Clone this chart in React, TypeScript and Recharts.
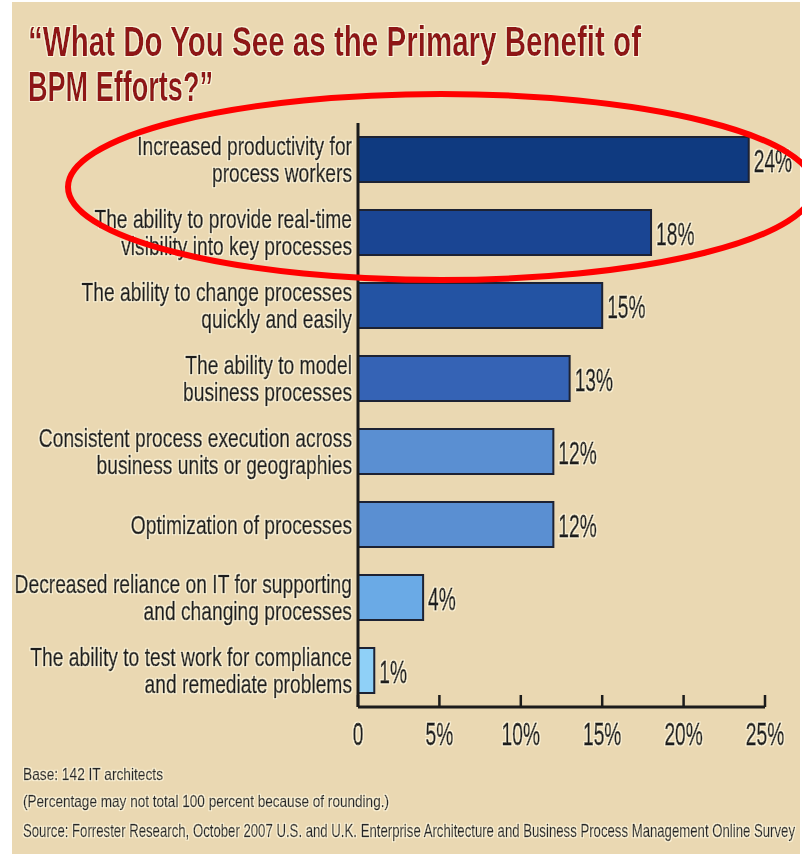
import React from 'react';
import { BarChart, Bar, XAxis, YAxis, Cell, LabelList } from 'recharts';

const categories = [
  'Increased productivity for\nprocess workers',
  'The ability to provide real-time\nvisibility into key processes',
  'The ability to change processes\nquickly and easily',
  'The ability to model\nbusiness processes',
  'Consistent process execution across\nbusiness units or geographies',
  'Optimization of processes',
  'Decreased reliance on IT for supporting\nand changing processes',
  'The ability to test work for compliance\nand remediate problems',
];
const shares = [24, 18, 15, 13, 12, 12, 4, 1];
const xTicks = [0, 5, 10, 15, 20, 25];

const titleLines = ['“What Do You See as the Primary Benefit of', 'BPM Efforts?”'];
const notes = [
  'Base: 142 IT architects',
  '(Percentage may not total 100 percent because of rounding.)',
  'Source: Forrester Research, October 2007 U.S. and U.K. Enterprise Architecture and Business Process Management Online Survey',
];

// dark navy at the top fading to pale blue at the bottom
const barColors = ['#0f3a80', '#1a4593', '#2353a3', '#3563b5', '#5a8fd2', '#5a8fd2', '#6aaae6', '#8fd0f7'];

const data = categories.map((name, i) => ({ name, value: shares[i] }));

const FONT = '"Liberation Sans", Arial, sans-serif';
const INK = '#1b1b1b';
const BG = '#ead8b2';

// cream glow round the type, as in the scanned original
const textStyle = { filter: 'url(#halo)' };

// the original type is a tall condensed face, so squeeze a regular sans horizontally
const CategoryTick = ({ x, y, payload }: any) => {
  const lines = String(payload.value).split('\n');
  const gap = 28;
  const top = y - ((lines.length - 1) * gap) / 2;
  return (
    <g transform={`translate(${x},${top}) scale(0.74,1)`} style={textStyle}>
      {lines.map((line, i) => (
        <text
          key={i}
          x={0}
          y={i * gap}
          dy={9}
          textAnchor="end"
          fontFamily={FONT}
          fontSize={26}
          fill={INK}
          stroke={INK}
          strokeWidth={0.7}
        >
          {line}
        </text>
      ))}
    </g>
  );
};

const PercentTick = ({ x, y, payload }: any) => (
  <g>
    <line x1={x} x2={x} y1={y} y2={y - 12} stroke={INK} strokeWidth={2.5} />
    <g transform={`translate(${x},${y + 38}) scale(0.6,1)`} style={textStyle}>
      <text textAnchor="middle" fontFamily={FONT} fontSize={32} fill={INK} stroke={INK} strokeWidth={0.8}>
        {payload.value === 0 ? '0' : `${payload.value}%`}
      </text>
    </g>
  </g>
);

const ValueLabel = ({ x, y, width, height, value }: any) => (
  <g transform={`translate(${x + width + 5},${y + height / 2 + 12}) scale(0.6,1)`} style={textStyle}>
    <text fontFamily={FONT} fontSize={32} fill={INK} stroke={INK} strokeWidth={0.8}>
      {`${value}%`}
    </text>
  </g>
);

export default function App() {
  return (
    <div style={{ position: 'absolute', left: 0, top: 0, width: 802, height: 860, background: '#fff', overflow: 'hidden' }}>
      <svg width={0} height={0} style={{ position: 'absolute' }}>
        <defs>
          <filter id="halo" x="-10%" y="-30%" width="120%" height="160%">
            <feMorphology in="SourceAlpha" operator="dilate" radius="1.3" result="grown" />
            <feFlood floodColor="#fcf3d8" />
            <feComposite in2="grown" operator="in" result="glow" />
            <feMerge>
              <feMergeNode in="glow" />
              <feMergeNode in="SourceGraphic" />
            </feMerge>
          </filter>
        </defs>
      </svg>
      <div style={{ position: 'absolute', left: 12, top: 2, width: 788, height: 852, background: BG }} />
      <div style={{ position: 'absolute', left: 0, top: 0 }}>
        <BarChart
          width={802}
          height={860}
          layout="vertical"
          data={data}
          margin={{ top: 123, right: 37, bottom: 113, left: 8 }}
        >
          <XAxis
            type="number"
            domain={[0, 25]}
            ticks={xTicks}
            interval={0}
            height={40}
            tickSize={0}
            tickMargin={0}
            tick={<PercentTick />}
            axisLine={{ stroke: INK, strokeWidth: 3 }}
          />
          <YAxis
            type="category"
            dataKey="name"
            width={350}
            interval={0}
            tickSize={0}
            tickMargin={6}
            tickLine={false}
            tick={<CategoryTick />}
            axisLine={{ stroke: INK, strokeWidth: 3 }}
          />
          <Bar dataKey="value" barSize={45} stroke="#1d2233" strokeWidth={2} isAnimationActive={false}>
            {data.map((_, i) => (
              <Cell key={`cell-${i}`} fill={barColors[i]} />
            ))}
            <LabelList dataKey="value" content={<ValueLabel />} />
          </Bar>
        </BarChart>
      </div>
      <svg
        width={802}
        height={860}
        style={{ position: 'absolute', left: 0, top: 0, pointerEvents: 'none' }}
      >
        {titleLines.map((line, i) => (
          <text
            key={i}
            x={28}
            y={56 + i * 45}
            fontFamily={FONT}
            fontSize={42}
            fontWeight="bold"
            fill="#8e1318"
            style={textStyle}
            textLength={i === 0 ? 613 : 185}
            lengthAdjust="spacingAndGlyphs"
          >
            {line}
          </text>
        ))}
        {notes.map((line, i) => (
          <text
            key={i}
            x={23}
            y={[780, 807, 837][i]}
            fontFamily={FONT}
            fontSize={i === 2 ? 19 : 17}
            fill="#262626"
            stroke="#262626"
            strokeWidth={0.4}
            style={textStyle}
            textLength={[140, 366, 772][i]}
            lengthAdjust="spacingAndGlyphs"
          >
            {line}
          </text>
        ))}
        <ellipse cx={441} cy={187} rx={373} ry={93} fill="none" stroke="#ff0000" strokeWidth={6} />
      </svg>
    </div>
  );
}
